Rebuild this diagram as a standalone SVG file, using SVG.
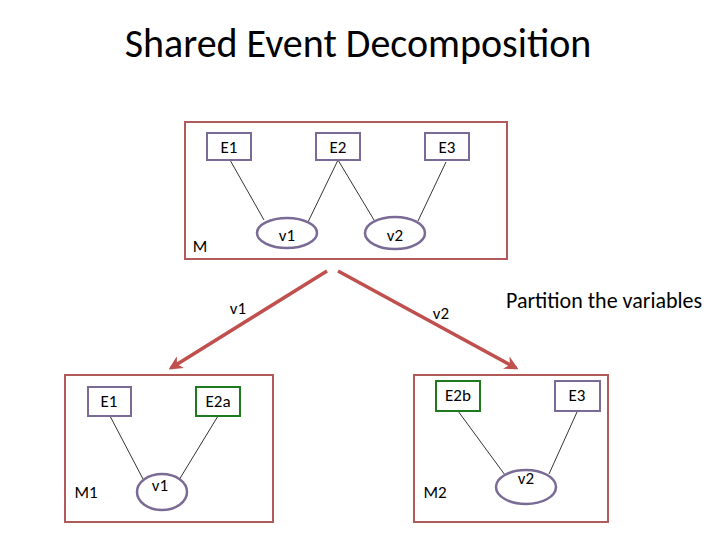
<svg xmlns="http://www.w3.org/2000/svg" width="720" height="540" viewBox="0 0 720 540">
<defs>
<style>
text{font-family:Calibri,Lato,"Liberation Sans",sans-serif;fill:#000}
.frame{fill:none;stroke:#b05a5a;stroke-width:2}
.ev{fill:#fff;stroke:#7a6a96;stroke-width:2}
.evg{fill:#fff;stroke:#1f7a1f;stroke-width:2}
.var{fill:#fff;stroke:#7a6a96;stroke-width:2.5}
.edge{stroke:#000;stroke-width:0.8}
.arr{stroke:#c0504d;stroke-width:3.5;fill:none;marker-end:url(#ah)}
.lbl{font-size:17px;text-anchor:middle}
</style>
<marker id="ah" viewBox="0 0 10 10" refX="8" refY="5" markerWidth="4" markerHeight="4" orient="auto"><path d="M0,0L10,5L0,10L3,5z" fill="#c0504d"/></marker>
</defs>
<text x="358" y="57" font-size="40" text-anchor="middle">Shared Event Decomposition</text>
<g id="M"><rect class="frame" x="185" y="122" width="322" height="137"/><text x="200" y="252" font-size="17" text-anchor="middle">M</text></g>
<g id="M1"><rect class="frame" x="65" y="375" width="208" height="147"/><text x="86" y="498" font-size="17" text-anchor="middle">M1</text></g>
<g id="M2"><rect class="frame" x="414" y="375" width="194" height="147"/><text x="435" y="498" font-size="17" text-anchor="middle">M2</text></g>
<g id="connectors">
<line class="edge" x1="230" y1="160" x2="264" y2="220"/>
<line class="edge" x1="338" y1="160" x2="308" y2="222"/>
<line class="edge" x1="338" y1="160" x2="374" y2="220"/>
<line class="edge" x1="446" y1="162" x2="418" y2="221"/>
<line class="edge" x1="110" y1="416" x2="143" y2="479"/>
<line class="edge" x1="218" y1="416" x2="179" y2="480"/>
<line class="edge" x1="458" y1="411" x2="505" y2="475"/>
<line class="edge" x1="577" y1="412" x2="549" y2="474"/>
<line class="arr" x1="327" y1="271" x2="171" y2="368"/>
<line class="arr" x1="338" y1="271" x2="516" y2="368"/>
<text class="lbl" x="238" y="314">v1</text>
<text class="lbl" x="441" y="319">v2</text>
</g>
<g id="E1"><rect class="ev" x="207" y="133" width="44" height="27"/><text class="lbl" x="229" y="153">E1</text></g>
<g id="E2"><rect class="ev" x="316" y="133" width="44" height="27"/><text class="lbl" x="338" y="153">E2</text></g>
<g id="E3"><rect class="ev" x="425" y="133" width="44" height="27"/><text class="lbl" x="447" y="153">E3</text></g>
<g id="v1"><ellipse class="var" cx="287" cy="233" rx="30" ry="15"/><text class="lbl" x="287" y="241">v1</text></g>
<g id="v2"><ellipse class="var" cx="395" cy="233" rx="30" ry="16"/><text class="lbl" x="395" y="241">v2</text></g>
<g id="M1E1"><rect class="ev" x="88" y="387" width="43" height="29"/><text class="lbl" x="109" y="407">E1</text></g>
<g id="E2a"><rect class="evg" x="196" y="387" width="44" height="29"/><text class="lbl" x="218" y="407">E2a</text></g>
<g id="M1v1"><ellipse class="var" cx="162" cy="492" rx="25" ry="18"/><text class="lbl" x="160" y="491">v1</text></g>
<g id="E2b"><rect class="evg" x="436" y="381" width="44" height="30"/><text class="lbl" x="458" y="401">E2b</text></g>
<g id="M2E3"><rect class="ev" x="555" y="381" width="45" height="30"/><text class="lbl" x="577" y="401">E3</text></g>
<g id="M2v2"><ellipse class="var" cx="526" cy="487" rx="30" ry="17"/><text class="lbl" x="526" y="484">v2</text></g>
<text x="506" y="308" font-size="22">Partition the variables</text>
</svg>
